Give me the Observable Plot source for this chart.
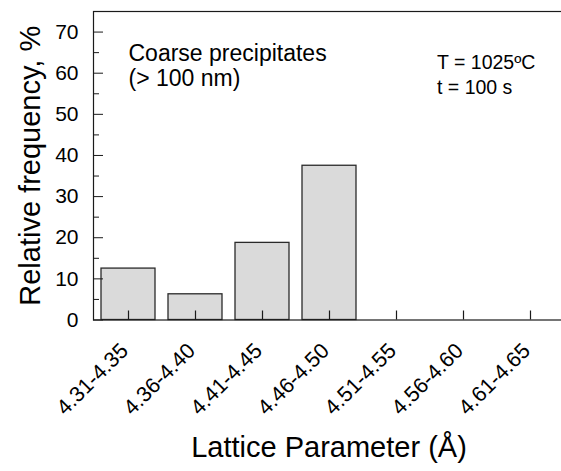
<!DOCTYPE html>
<html>
<head>
<meta charset="utf-8">
<script src="https://cdn.jsdelivr.net/npm/d3@7"></script>
<script src="https://cdn.jsdelivr.net/npm/@observablehq/plot@0.6"></script>
<style>
  html, body { margin: 0; padding: 0; background: #fff; }
  #chart svg { display: block; }
</style>
</head>
<body>
<div id="chart"></div>
<script>
const categories = ["4.31-4.35", "4.36-4.40", "4.41-4.45", "4.46-4.50", "4.51-4.55", "4.56-4.60", "4.61-4.65"];
const frequency = [12.5, 6.25, 18.75, 37.5, 0, 0, 0];
const yMajorTicks = [0, 10, 20, 30, 40, 50, 60, 70];
const yMinorTicks = [5, 15, 25, 35, 45, 55, 65];
const xTitle = "Lattice Parameter (Å)";
const yTitle = "Relative frequency, %";
const noteLeft = ["Coarse precipitates", "(> 100 nm)"];
const noteRight = ["T = 1025ºC", "t = 100 s"];

const data = categories.map((c, i) => ({range: c, freq: frequency[i]}));

const W = 561, H = 471;
const mL = 93, mT = 11, mB = 151.5, mR = -3;
const plotW = W - mL - mR;
const plotH = H - mT - mB;
const ink = "#1a1a1a";
const font = "'Liberation Sans', Arial, Helvetica, sans-serif";

const chart = Plot.plot({
  width: W,
  height: H,
  marginLeft: mL,
  marginTop: mT,
  marginBottom: mB,
  marginRight: mR,
  style: {fontFamily: font, color: "#000", background: "#fff", overflow: "hidden"},
  x: {type: "band", domain: categories, paddingInner: 0.2, paddingOuter: 0.1, axis: null},
  y: {domain: [0, 75], axis: null},
  marks: [
    Plot.barY(data, {x: "range", y: "freq", fill: "#dadada", stroke: "#2a2a2a", strokeWidth: 1.3}),
    Plot.frame({stroke: ink, strokeWidth: 1.2}),
    Plot.ruleY(yMajorTicks, {y: d => d, insetRight: plotW - 10, stroke: ink, strokeWidth: 1}),
    Plot.ruleY(yMinorTicks, {y: d => d, insetRight: plotW - 6, stroke: ink, strokeWidth: 1}),
    Plot.ruleX(categories, {x: d => d, insetTop: plotH - 9, stroke: ink, strokeWidth: 1.2}),
    Plot.axisY({ticks: yMajorTicks, tickSize: 0, tickPadding: 15, fontSize: 21, label: null, fill: "#000"}),
    Plot.text(categories, {x: d => d, frameAnchor: "bottom", rotate: -45, textAnchor: "end", lineAnchor: "bottom", dx: 1, dy: 32, fontSize: 21.5, fill: "#000"}),
    Plot.text([yTitle], {frameAnchor: "left", rotate: -90, textAnchor: "middle", lineAnchor: "bottom", dx: -54, fontSize: 29, fill: "#000"}),
    Plot.text([xTitle], {frameAnchor: "bottom", textAnchor: "middle", lineAnchor: "bottom", dy: 137, fontSize: 29, fill: "#000"}),
    Plot.text([noteLeft.join("\n")], {frameAnchor: "top-left", textAnchor: "start", lineAnchor: "bottom", dx: 35, dy: 74, fontSize: 23, lineHeight: 25 / 23, fill: "#000"}),
    Plot.text([noteRight.join("\n")], {frameAnchor: "top-left", textAnchor: "start", lineAnchor: "bottom", dx: 343.5, dy: 82.8, fontSize: 19.5, lineHeight: 25.5 / 19.5, fill: "#000"})
  ]
});
document.getElementById("chart").appendChild(chart);
</script>
</body>
</html>
